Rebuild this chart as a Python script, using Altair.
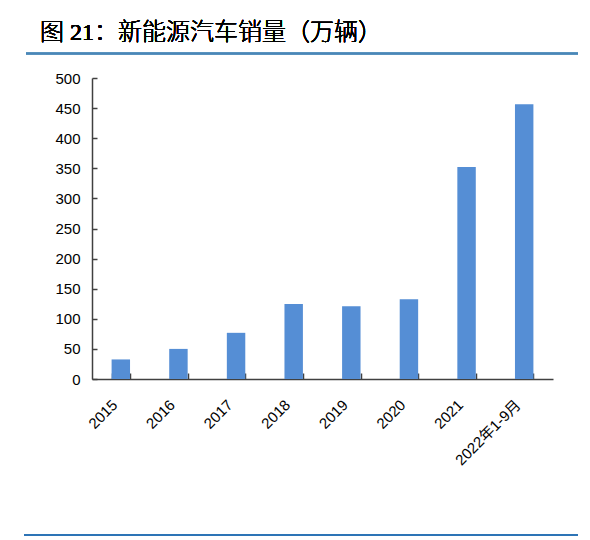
import altair as alt
import pandas as pd

categories = ["2015", "2016", "2017", "2018", "2019", "2020", "2021", "2022年1-9月"]
sales = [32.5, 50.0, 76.7, 124.5, 121.0, 132.3, 352.0, 456.5]
y_ticks = [0, 50, 100, 150, 200, 250, 300, 350, 400, 450, 500]
TITLE = "图 21：新能源汽车销量（万辆）"

df = pd.DataFrame({"cat": categories, "val": sales})

W, H = 461, 301
LABEL_FONT = "Liberation Sans, Arial, Noto Sans CJK SC"
AXIS_COLOR = "#404040"
BAR_COLOR = "#558ED5"
LINE_COLOR = "#4A86B8"

xscale = alt.Scale(domain=categories, paddingInner=0.68, paddingOuter=0.34)
yscale = alt.Scale(domain=[0, 500], nice=False)

bars = alt.Chart(df).mark_bar(color=BAR_COLOR).encode(
    x=alt.X("cat:N", sort=categories, scale=xscale, title=None,
            axis=alt.Axis(labelAngle=-45, labelAlign="right", labelBaseline="middle",
                          labelPadding=23, labelOffset=-6, ticks=False,
                          domainColor=AXIS_COLOR, domainWidth=1.5,
                          labelFont=LABEL_FONT, labelFontSize=15,
                          labelColor="#000000", grid=False)),
    y=alt.Y("val:Q", scale=yscale, title=None,
            axis=alt.Axis(values=y_ticks, ticks=False, labelPadding=12,
                          domainColor=AXIS_COLOR, domainWidth=1.5,
                          labelFont=LABEL_FONT, labelFontSize=15, labelColor="#000000",
                          grid=False)),
)

tick_layer = alt.Chart(df).mark_bar(opacity=0).encode(
    x=alt.X("cat:N", sort=categories, scale=xscale, title=None,
            axis=alt.Axis(orient="top", offset=-H, labels=False, domain=False,
                          tickBand="extent", tickSize=6, tickColor=AXIS_COLOR,
                          tickWidth=1.5, grid=False)),
    y=alt.Y("val:Q", scale=yscale, title=None,
            axis=alt.Axis(orient="right", offset=-W, labels=False, domain=False,
                          values=y_ticks, tickSize=5, tickColor=AXIS_COLOR,
                          tickWidth=1.5, grid=False)),
)

title_text = alt.Chart(df).mark_text(
    text=TITLE, align="left", baseline="middle", fontWeight=300,
    font="Liberation Serif, Noto Sans CJK SC", fontSize=24, color="#000000",
).encode(x=alt.value(-52), y=alt.value(-45))

top_line = alt.Chart(df).mark_rule(color=LINE_COLOR, strokeWidth=1.5).encode(
    x=alt.value(-66), x2=alt.value(486), y=alt.value(-24.5))

bottom_line = alt.Chart(df).mark_rule(color="#2E75B6", strokeWidth=1.5).encode(
    x=alt.value(-68), x2=alt.value(486), y=alt.value(457))

chart = alt.layer(bars, tick_layer, title_text, top_line, bottom_line).resolve_axis(
    x="independent", y="independent"
).resolve_scale(x="shared", y="shared").properties(
    width=W, height=H,
    autosize=alt.AutoSizeParams(type="none"),
    padding={"left": 84, "top": 70, "right": 29, "bottom": 158},
).configure_view(stroke=None)

chart.save("out.html", embed_options={"renderer": "svg", "actions": False})
